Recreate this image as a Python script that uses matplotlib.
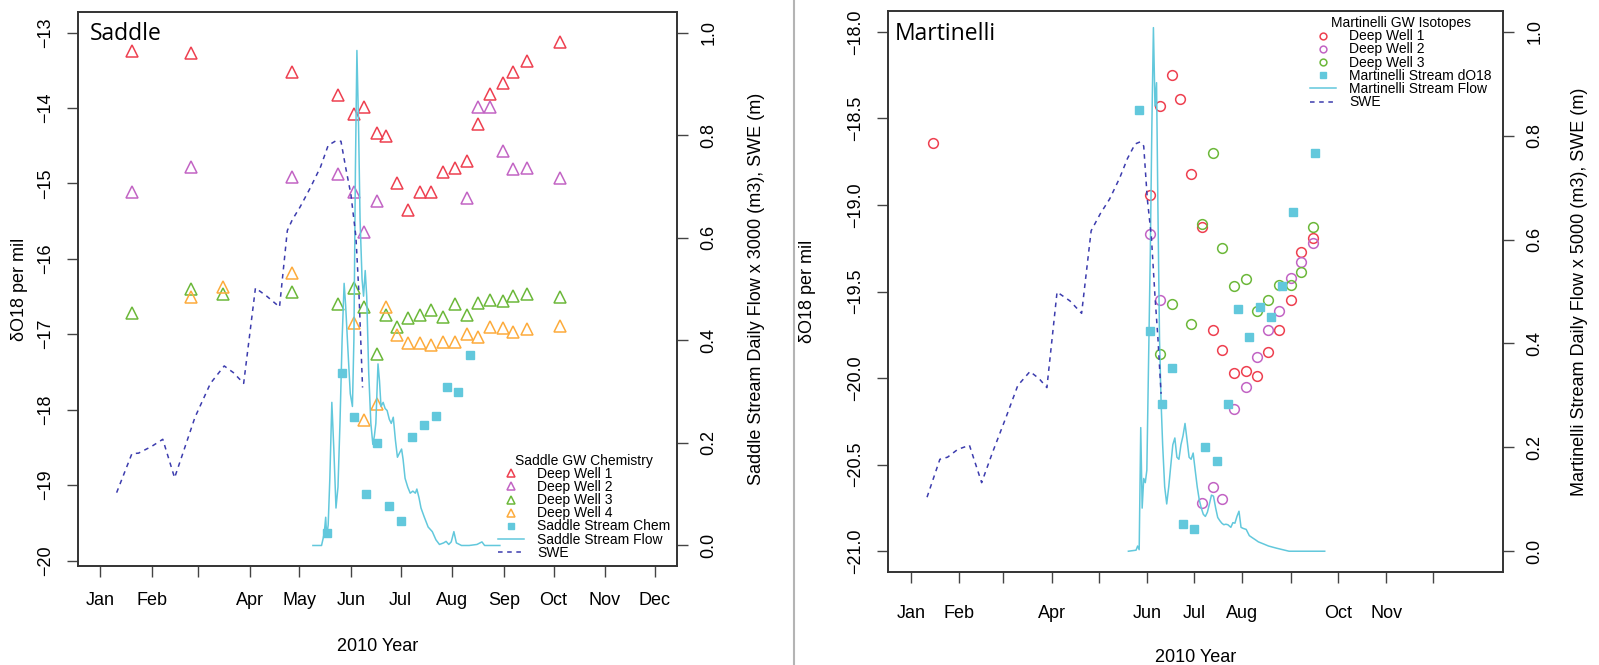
import numpy as np
import matplotlib
matplotlib.use('Agg')
import matplotlib.pyplot as plt
from matplotlib.lines import Line2D

plt.rcParams['font.family'] = ['Liberation Sans', 'DejaVu Sans']

# ---------------- data (x = day of year 2010, Jan 1 = 0) ----------------
month_days = [0, 31, 59, 90, 120, 151, 181, 212, 243, 273, 304, 334]
saddle_month_labels = ['Jan', 'Feb', '', 'Apr', 'May', 'Jun', 'Jul', 'Aug', 'Sep', 'Oct', 'Nov', 'Dec']
mart_month_labels = ['Jan', 'Feb', '', 'Apr', '', 'Jun', 'Jul', 'Aug', '', 'Oct', 'Nov', '']

# Saddle groundwater d18O
s_dw1_day = [19.4, 54.6, 115.7, 143.5, 152.8, 159, 166.7, 171.9, 178.7, 185.5, 192.6, 199, 206.5,
             213.6, 220.7, 227.8, 234.6, 242.6, 248.8, 256.8, 276.9]
s_dw1_val = [-13.25, -13.27, -13.52, -13.83, -14.08, -13.99, -14.33, -14.37, -15.0, -15.35, -15.11,
             -15.12, -14.85, -14.80, -14.70, -14.21, -13.82, -13.67, -13.52, -13.38, -13.12]
s_dw2_day = [19.4, 54.6, 115.7, 143.5, 152.8, 159, 166.7, 220.7, 227.8, 234.6, 242.6, 248.8, 256.8, 276.9]
s_dw2_val = [-15.12, -14.78, -14.91, -14.88, -15.12, -15.65, -15.24, -15.20, -13.99, -13.99, -14.57,
             -14.81, -14.80, -14.93]
s_dw3_day = [19.4, 54.6, 74.1, 115.7, 143.5, 152.8, 159, 166.7, 171.9, 178.7, 185.5, 192.6, 199,
             206.5, 213.6, 220.7, 227.8, 234.6, 242.6, 248.8, 256.8, 276.9]
s_dw3_val = [-16.72, -16.40, -16.47, -16.44, -16.60, -16.39, -16.64, -17.26, -16.74, -16.91, -16.79,
             -16.74, -16.68, -16.77, -16.60, -16.74, -16.58, -16.55, -16.56, -16.49, -16.47, -16.51]
s_dw4_day = [54.6, 74.1, 115.7, 152.8, 159, 166.7, 171.9, 178.7, 185.5, 192.6, 199, 206.5, 213.6,
             220.7, 227.8, 234.6, 242.6, 248.8, 256.8, 276.9]
s_dw4_val = [-16.50, -16.38, -16.19, -16.85, -18.14, -17.93, -16.64, -17.01, -17.11, -17.11, -17.14,
             -17.10, -17.10, -17.00, -17.03, -16.91, -16.92, -16.97, -16.93, -16.89]
s_chem_day = [136.7, 145.7, 152.8, 159.9, 166.7, 173.8, 180.9, 187.7, 194.8, 202.5, 208.9, 215.7, 222.8]
s_chem_val = [-19.64, -17.51, -18.10, -19.12, -18.44, -19.27, -19.48, -18.36, -18.20, -18.08, -17.70,
              -17.77, -17.27]

# Saddle stream flow (x 3000 m3) and SWE (m)
s_flow_day = [128.1, 133.3, 134.9, 135.8, 136.4, 137.3, 138.3, 139.5, 140.7, 142, 143.2, 144.4, 145.7,
              146.9, 147.8, 149.1, 150.6, 151.9, 152.8, 153.7, 154.6, 155.6, 156.5, 157.7, 158.6,
              159.6, 160.5, 161.7, 163, 164.2, 165.1, 166, 167.3, 168.2, 169.1, 170.4, 171.6, 172.8,
              174.1, 175.3, 176.5, 177.8, 179, 180.2, 181.5, 182.4, 183.6, 185.2, 186.7, 188.3,
              189.8, 190.7, 192, 193.2, 195.1, 197.5, 200, 202.2, 204.3, 206.8, 208.3, 209.9, 211.4,
              213, 214.5, 217.6, 222.2, 226.9, 229.9, 231.5, 240.7]
s_flow_val = [0, 0, 0.023, 0.055, 0.017, 0.040, 0.131, 0.279, 0.188, 0.073, 0.114, 0.238, 0.403,
              0.511, 0.469, 0.387, 0.296, 0.271, 0.403, 0.734, 0.965, 0.817, 0.635, 0.519, 0.486,
              0.536, 0.486, 0.337, 0.238, 0.197, 0.213, 0.238, 0.354, 0.321, 0.271, 0.279, 0.267,
              0.263, 0.246, 0.238, 0.250, 0.205, 0.172, 0.180, 0.188, 0.168, 0.131, 0.114, 0.102,
              0.106, 0.102, 0.110, 0.093, 0.073, 0.056, 0.036, 0.027, 0.011, 0.002, 0.005, 0.008,
              0.002, 0.007, 0.027, 0.005, 0, 0, 0.002, 0.007, 0, 0]
swe_day = [9.9, 19.1, 23.1, 30.9, 37.7, 44.8, 49.4, 57.1, 66.4, 74.7, 80.2, 86.4, 93.5, 100.3, 108,
           112.7, 115.7, 120.4, 126.5, 132.7, 137.3, 142, 145, 148, 151, 154, 155.9, 158]
swe_val = [0.103, 0.179, 0.180, 0.193, 0.207, 0.132, 0.176, 0.250, 0.316, 0.350, 0.337, 0.316, 0.502,
           0.486, 0.465, 0.614, 0.635, 0.660, 0.697, 0.738, 0.780, 0.789, 0.788, 0.734, 0.684,
           0.602, 0.486, 0.308]

# Martinelli groundwater d18O
m_dw1_day = [14.3, 153.1, 159, 167.2, 172, 178.9, 186.4, 193.2, 199.1, 206.9, 214.1, 221.2, 228.1,
             235.3, 243.1, 249.3, 257.4]
m_dw1_val = [-18.64, -18.94, -18.43, -18.25, -18.39, -18.82, -19.13, -19.72, -19.84, -19.97, -19.96,
             -19.99, -19.85, -19.72, -19.55, -19.27, -19.19]
m_dw2_day = [153.1, 159, 186.4, 193.2, 199.1, 206.9, 214.1, 221.2, 228.1, 235.3, 243.1, 249.3, 257.4]
m_dw2_val = [-19.17, -19.55, -20.72, -20.63, -20.70, -20.18, -20.05, -19.88, -19.72, -19.61, -19.42,
             -19.33, -19.22]
m_dw3_day = [159, 167.2, 178.9, 186.4, 193.2, 199.1, 206.9, 214.1, 221.2, 228.1, 235.3, 243.1, 249.3,
             257.4]
m_dw3_val = [-19.86, -19.57, -19.69, -19.11, -18.70, -19.25, -19.47, -19.43, -19.61, -19.55, -19.46,
             -19.46, -19.39, -19.13]
m_chem_day = [145.7, 153.1, 160.3, 167.2, 174.3, 181.2, 188.3, 195.5, 203, 209.2, 216, 223.2, 230,
              237.2, 244.1, 258.1]
m_chem_val = [-18.45, -19.73, -20.15, -19.94, -20.84, -20.87, -20.40, -20.48, -20.15, -19.60, -19.76,
              -19.59, -19.65, -19.47, -19.04, -18.70]

# Martinelli stream flow (x 5000 m3) and SWE (m)
m_flow_day = [139.1, 144, 145, 146, 147, 147.9, 148.9, 149.9, 150.9, 151.8, 153.1, 154.1, 155.1,
              156.1, 157.1, 158, 159, 160, 161, 162.3, 163.6, 164.9, 166.2, 167.5, 168.8, 170.1,
              171.4, 172.7, 174, 175.3, 176.6, 177.9, 179.2, 180.5, 181.8, 183.1, 184.4, 185.7, 187,
              188.3, 189.6, 190.9, 192.2, 193.5, 194.9, 196.2, 197.5, 198.8, 200.1, 201.4, 202.7,
              204.6, 205.9, 207.2, 208.5, 209.8, 211.1, 212.4, 214.4, 216.4, 218.3, 220.3, 222.2,
              225.5, 228.7, 233.6, 241.8, 264.6]
m_flow_val = [0, 0.002, 0.010, 0.003, 0.238, 0.083, 0.140, 0.132, 0.156, 0.328, 0.572, 0.817, 1.008,
              0.857, 0.902, 0.654, 0.409, 0.287, 0.205, 0.124, 0.091, 0.124, 0.165, 0.205, 0.218,
              0.181, 0.177, 0.205, 0.222, 0.246, 0.214, 0.181, 0.177, 0.189, 0.156, 0.124, 0.099,
              0.083, 0.071, 0.067, 0.075, 0.091, 0.108, 0.106, 0.083, 0.065, 0.059, 0.054, 0.051,
              0.052, 0.051, 0.046, 0.055, 0.054, 0.067, 0.077, 0.046, 0.044, 0.042, 0.030, 0.026,
              0.022, 0.018, 0.014, 0.010, 0.006, 0, 0]
m_swe_day = [10.4, 18.6, 23.5, 30, 37.5, 45.3, 52.1, 60.9, 68.4, 76.2, 82.1, 87, 93.5, 101.7, 109.2,
             115.3, 121.2, 127.1, 133.6, 138.5, 143.4, 146.6, 148.9, 151.2, 153.8, 156.1, 158, 160]
m_swe_val = [0.104, 0.177, 0.181, 0.196, 0.204, 0.132, 0.189, 0.258, 0.319, 0.346, 0.332, 0.315, 0.499,
             0.482, 0.458, 0.617, 0.650, 0.678, 0.719, 0.756, 0.784, 0.788, 0.780, 0.678, 0.605,
             0.491, 0.409, 0.303]

# ---------------- styles ----------------
c_red = '#ee4050'
c_purple = '#c264c4'
c_green = '#6cb83a'
c_orange = '#fdab3c'
c_cyan = '#62c8dc'
c_swe = '#3c3cae'
c_axis = '#333333'

fig = plt.figure(figsize=(15.99, 6.65), dpi=100)


def style_axes(ax, ax2, xpad):
    for a in (ax, ax2):
        for sp in a.spines.values():
            sp.set_color(c_axis)
            sp.set_linewidth(1.2)
        a.tick_params(length=8, width=1.0, color='#444444', labelsize=13, pad=9)
    ax.tick_params(axis='y', labelrotation=90)
    ax2.tick_params(axis='y', labelrotation=90)
    for lab in ax.get_yticklabels() + ax2.get_yticklabels():
        lab.set_va('center')
    ax.tick_params(axis='x', pad=xpad)


def panel(rect, ylim, yticks, yfmt, month_labels, xlim, title, tx, rlabel, xpad):
    ax = fig.add_axes(rect)
    ax2 = ax.twinx()
    ax.set_xlim(*xlim)
    ax.set_ylim(*ylim)
    ax2.set_ylim(-0.04, 1.04)
    ax.set_yticks(yticks)
    ax.set_yticklabels([yfmt.format(v).replace('-', '\u2212') for v in yticks])
    ax2.set_yticks([0, 0.2, 0.4, 0.6, 0.8, 1.0])
    ax2.set_yticklabels(['0.0', '0.2', '0.4', '0.6', '0.8', '1.0'])
    ax.set_xticks(month_days)
    ax.set_xticklabels(month_labels)
    style_axes(ax, ax2, xpad)
    ax.set_xlabel('2010 Year', fontsize=13)
    ax.set_ylabel('\u03b4O18 per mil', fontsize=13)
    ax2.set_ylabel(rlabel, fontsize=13)
    ax.text(tx, 0.949, title, transform=ax.transAxes,
            fontsize=16.5, family='Open Sans', va='baseline', ha='left')
    ax.xaxis.label.set_va('center')
    ax.yaxis.label.set_va('center')
    ax2.yaxis.label.set_va('center')
    return ax, ax2


leg_kw = dict(loc='upper left', frameon=False, fontsize=10, title_fontsize=10, borderpad=0,
              borderaxespad=0, handlelength=1.87, handletextpad=0.94, labelspacing=-0.06,
              handleheight=0.5, markerscale=0.7, numpoints=1)

# ---------------- Saddle panel ----------------
ax, ax2 = panel([78 / 1599, 99 / 665, 599 / 1599, 554 / 665], (-20.072, -12.728),
                [-20, -19, -18, -17, -16, -15, -14, -13], '{:d}', saddle_month_labels,
                (-13.36, 347.36), 'Saddle', 0.02,
                'Saddle Stream Daily Flow x 3000 (m3), SWE (m)', 11)
ax.xaxis.set_label_coords(0.5, -0.146)
ax.yaxis.set_label_coords(-0.097, 0.5)
ax2.yaxis.set_label_coords(1.132, 0.5)

tri = dict(marker='^', linestyle='none', markersize=9, markerfacecolor='none', markeredgewidth=1.1)
h1, = ax.plot(s_dw1_day, s_dw1_val, markeredgecolor=c_red, **tri)
h2, = ax.plot(s_dw2_day, s_dw2_val, markeredgecolor=c_purple, **tri)
h3, = ax.plot(s_dw3_day, s_dw3_val, markeredgecolor=c_green, **tri)
h4, = ax.plot(s_dw4_day, s_dw4_val, markeredgecolor=c_orange, **tri)
h5, = ax.plot(s_chem_day, s_chem_val, marker='s', linestyle='none', markersize=6, color=c_cyan)
h6, = ax2.plot(s_flow_day, s_flow_val, color=c_cyan, linewidth=1.1)
h7, = ax2.plot(swe_day, swe_val, color=c_swe, linewidth=1.1, linestyle=(0, (3, 3)))

ax2.legend([h1, h2, h3, h4, h5, h6, h7],
           ['Deep Well 1', 'Deep Well 2', 'Deep Well 3', 'Deep Well 4', 'Saddle Stream Chem',
            'Saddle Stream Flow', 'SWE'],
           title='Saddle GW Chemistry', bbox_to_anchor=(0.701, 0.203), **leg_kw)

# ---------------- Martinelli panel ----------------
bx, bx2 = panel([888 / 1599, 93 / 665, 615 / 1599, 561 / 665], (-21.12, -17.88),
                [-21.0, -20.5, -20.0, -19.5, -19.0, -18.5, -18.0], '{:.1f}', mart_month_labels,
                (-14.56, 378.56), 'Martinelli', 0.011,
                'Martinelli Stream Daily Flow x 5000 (m3), SWE (m)', 16)
bx.xaxis.set_label_coords(0.5, -0.153)
bx.yaxis.set_label_coords(-0.1317, 0.5)
bx2.yaxis.set_label_coords(1.125, 0.5)

circ = dict(marker='o', linestyle='none', markersize=7, markerfacecolor='none', markeredgewidth=1.1)
g1, = bx.plot(m_dw1_day, m_dw1_val, markeredgecolor=c_red, **circ)
g2, = bx.plot(m_dw2_day, m_dw2_val, markeredgecolor=c_purple, **circ)
g3, = bx.plot(m_dw3_day, m_dw3_val, markeredgecolor=c_green, **circ)
g4, = bx.plot(m_chem_day, m_chem_val, marker='s', linestyle='none', markersize=6, color=c_cyan)
g5, = bx2.plot(m_flow_day, m_flow_val, color=c_cyan, linewidth=1.1)
g6, = bx2.plot(m_swe_day, m_swe_val, color=c_swe, linewidth=1.1, linestyle=(0, (3, 3)))

bx2.legend([g1, g2, g3, g4, g5, g6],
           ['Deep Well 1', 'Deep Well 2', 'Deep Well 3', 'Martinelli Stream dO18',
            'Martinelli Stream Flow', 'SWE'],
           title='Martinelli GW Isotopes', bbox_to_anchor=(0.686, 0.991), **leg_kw)

# grey divider between the two panels
fig.add_artist(Line2D([794 / 1599, 794 / 1599], [0, 1], color='#b4b4b4', linewidth=1.5))

fig.savefig('out.png', dpi=100)
